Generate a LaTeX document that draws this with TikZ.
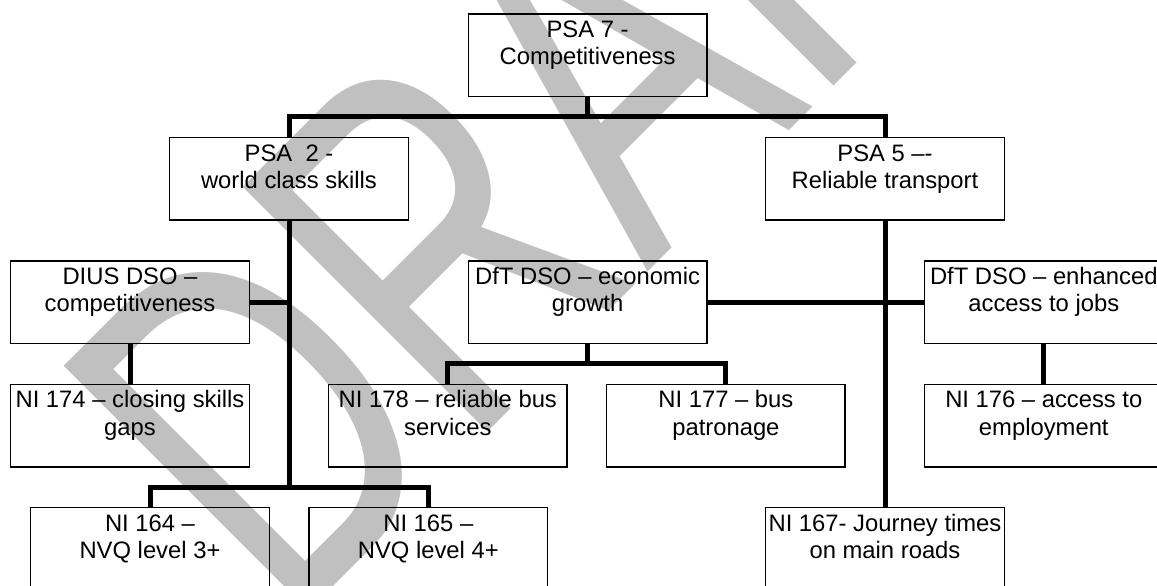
\documentclass[tikz,border=0pt]{standalone}
\usepackage{fontspec}
\setmainfont{Liberation Sans}
\newfontfamily\draftfont{Liberation Sans}
\definecolor{silver}{RGB}{192,192,192}
% two-line label set at the top of a fixed-size box
\newcommand{\boxlines}[2]{\parbox[c][82.5pt][t]{238.6pt}{\centering\rule{0pt}{23.3pt}#1\\#2}}
\tikzset{
  box/.style={draw, line width=1.5pt, inner sep=0pt, outer sep=0pt, anchor=north west,
    font=\fontsize{23.8pt}{27.5pt}\selectfont},
  link/.style={line width=5pt},
  wmark/.style={text=silver, inner sep=0pt, anchor=base west, rotate=45, yscale=1.43,
    transform shape, font=\draftfont\fontsize{352pt}{352pt}\selectfont}
}
\begin{document}
\begin{tikzpicture}[x=1pt,y=1pt]
\useasboundingbox (0,0) rectangle (1157,-586);
\clip (0,0) rectangle (1157,-586);
\fill[white] (0,0) rectangle (1157,-586);

% watermark behind the chart
\node[wmark] (draft) at (288,-632) {DRAFT};

% boxes
\node[box] (psa7)  at (468.3,-14)    {\boxlines{PSA 7 -}{Competitiveness}};
\node[box] (psa2)  at (169.7,-137.7) {\boxlines{PSA\ \ 2 -}{world class skills}};
\node[box] (psa5)  at (765.7,-137.7) {\boxlines{PSA 5 –-}{Reliable transport}};
\node[box] (dius)  at (10.7,-260.8)  {\boxlines{DIUS DSO –}{competitiveness}};
\node[box] (econ)  at (468.3,-260.8) {\boxlines{DfT DSO – economic}{growth}};
\node[box] (enh)   at (924.5,-260.8) {\boxlines{DfT DSO – enhanced}{access to jobs}};
\node[box] (ni174) at (10.7,-384.3)  {\boxlines{NI 174 – closing skills}{gaps}};
\node[box] (ni178) at (328.5,-384.3) {\boxlines{NI 178 – reliable bus}{services}};
\node[box] (ni177) at (606.6,-384.3) {\boxlines{NI 177 – bus}{patronage}};
\node[box] (ni176) at (924.5,-384.3) {\boxlines{NI 176 – access to}{employment}};
\node[box] (ni164) at (30.7,-507.7)  {\boxlines{NI 164 –}{NVQ level 3+}};
\node[box] (ni165) at (309,-507.7)   {\boxlines{NI 165 –}{NVQ level 4+}};
\node[box] (ni167) at (765.7,-507.7) {\boxlines{NI 167- Journey times}{on main roads}};

% bus levels
\coordinate (topbus)   at (0,-116.8);
\coordinate (econbus)  at (0,-363.5);
\coordinate (skillbus) at (0,-487.2);

% connectors
\draw[link] (psa7.south) -- (psa7.south |- topbus);
\draw[link] (psa2.north) -- (psa2.north |- topbus) -- (psa5.north |- topbus) -- (psa5.north);
\draw[link] (psa2.south) -- (psa2.south |- skillbus);
\draw[link] (ni164.north) -- (ni164.north |- skillbus) -- (ni165.north |- skillbus) -- (ni165.north);
\draw[link] (dius.east) -- (dius.east -| psa2.south);
\draw[link] (dius.south) -- (ni174.north);
\draw[link] (psa5.south) -- (ni167.north);
\draw[link] (econ.east) -- (enh.west);
\draw[link] (enh.south) -- (ni176.north);
\draw[link] (econ.south) -- (econ.south |- econbus);
\draw[link] (ni178.north) -- (ni178.north |- econbus) -- (ni177.north |- econbus) -- (ni177.north);
\end{tikzpicture}
\end{document}
